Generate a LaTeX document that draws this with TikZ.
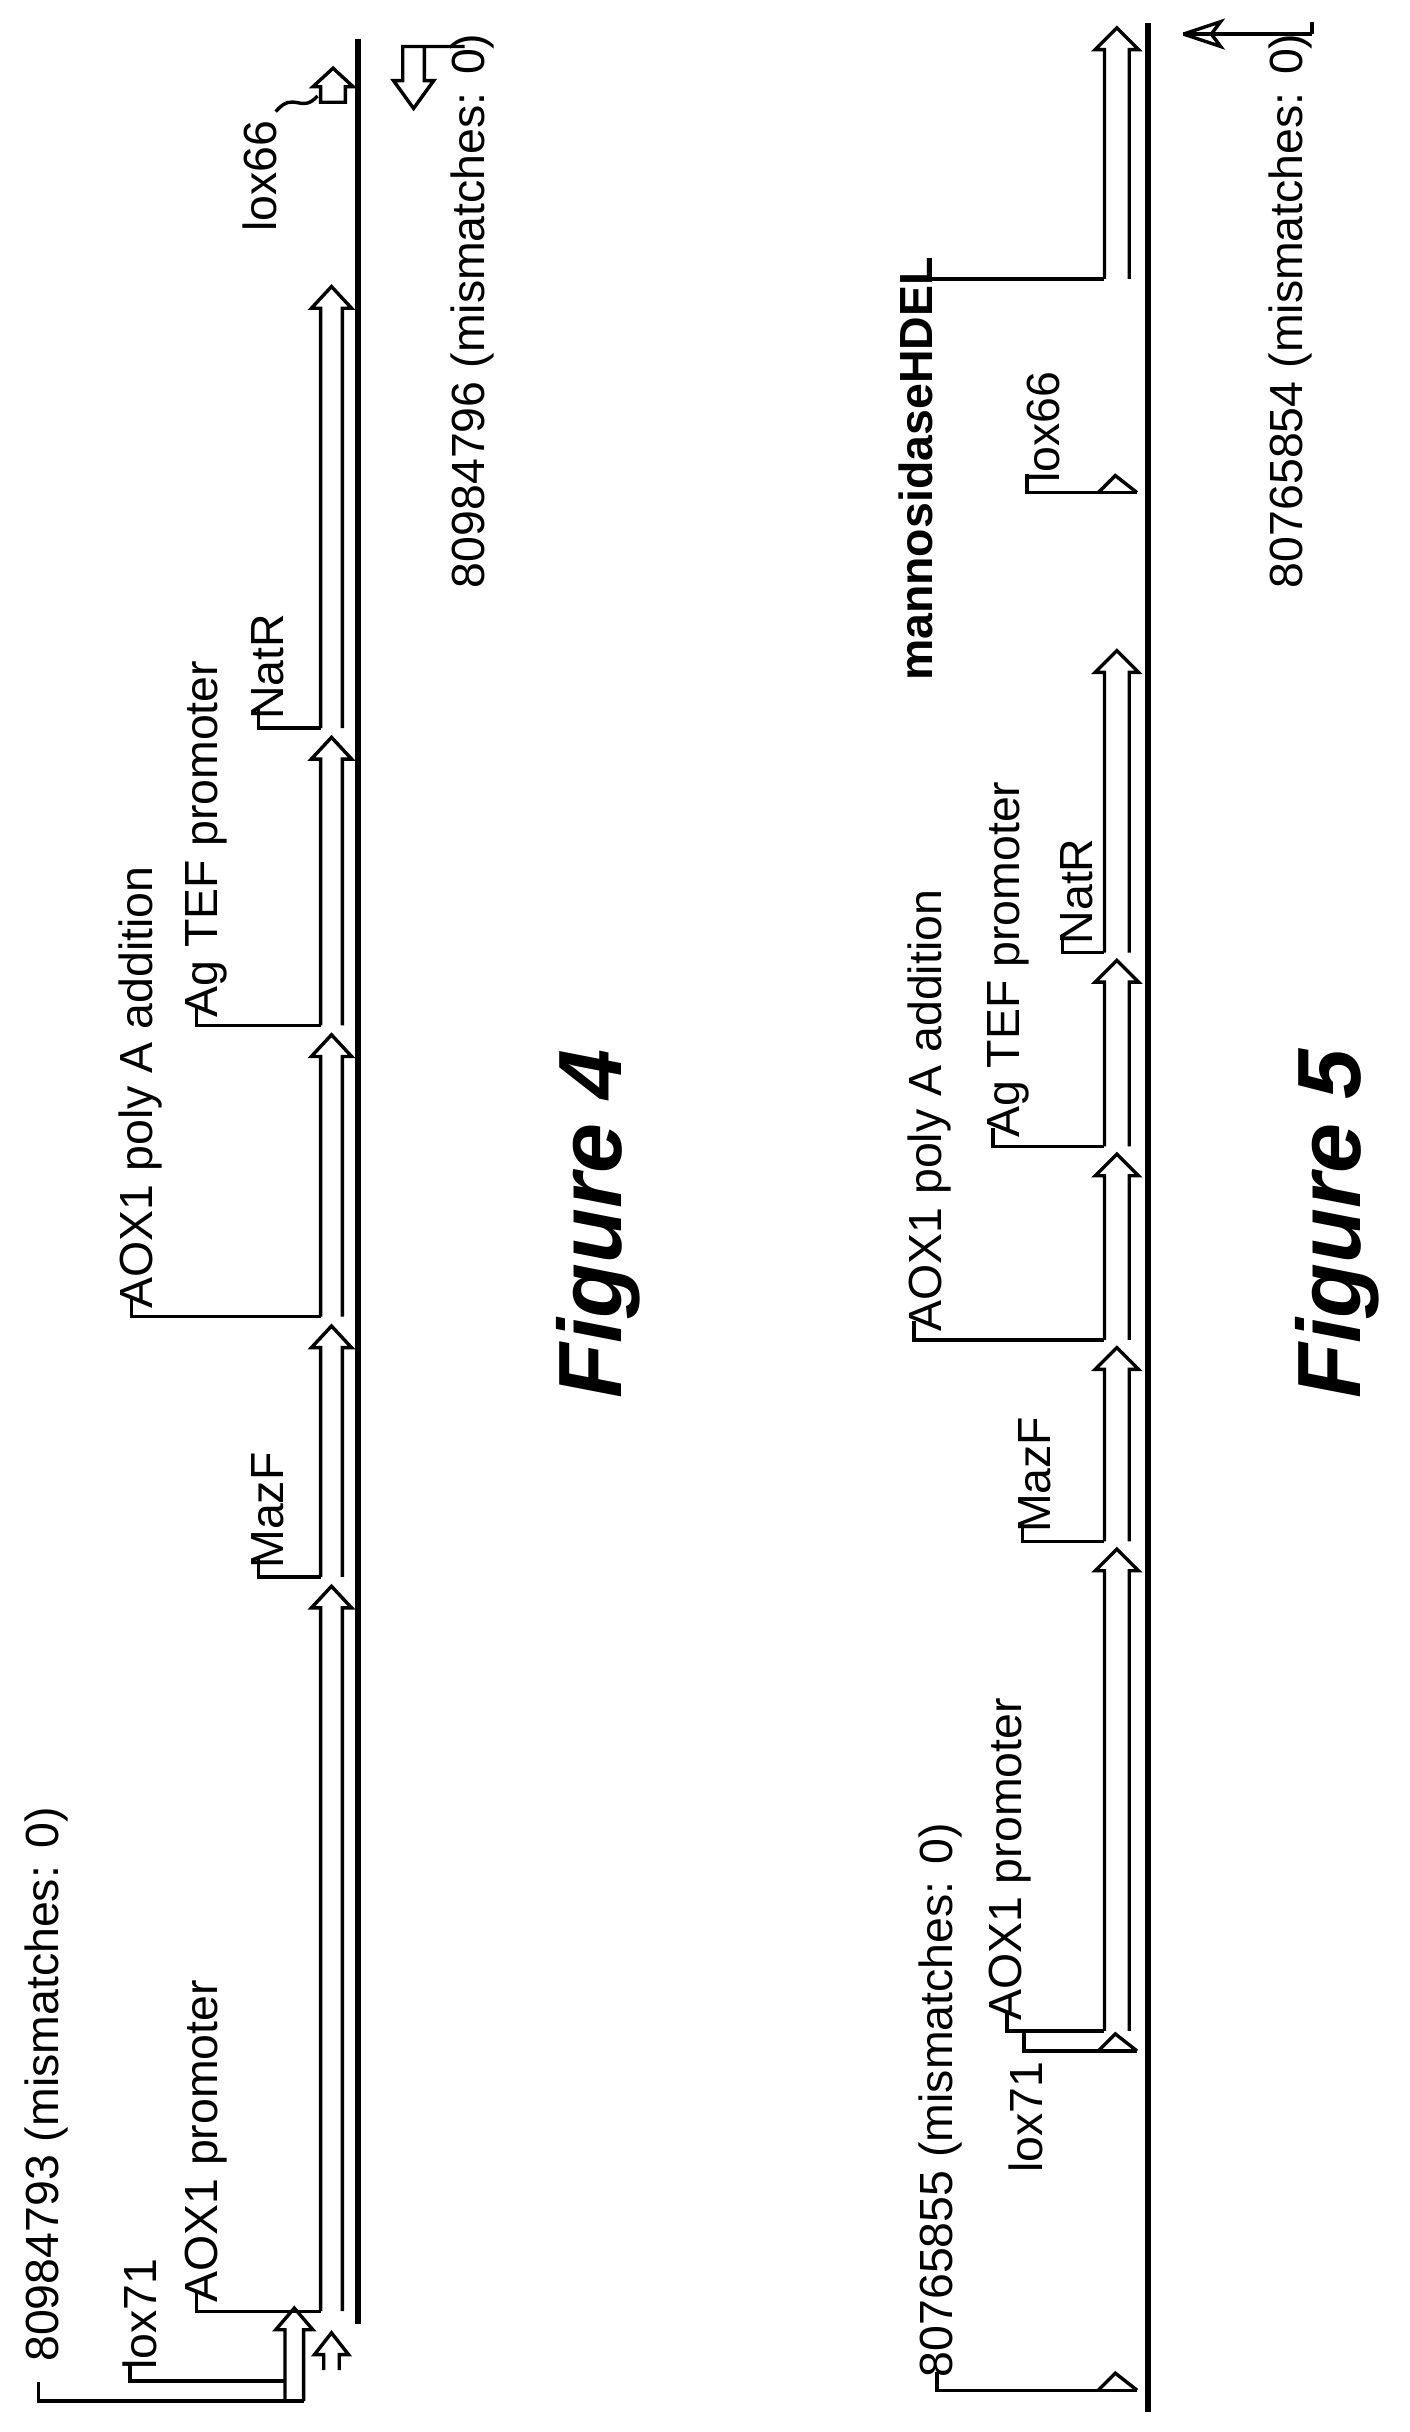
\documentclass[tikz,border=0pt]{standalone}
\usepackage{fontspec}
\setmainfont{Liberation Sans}
\begin{document}
\begin{tikzpicture}[x=0.5pt,y=-0.5pt,
  feat/.style={line width=1.1pt,line join=miter},
  base/.style={line width=2pt},
  lead/.style={line width=1.1pt},
  lbl/.style={rotate=90,anchor=west,inner sep=0pt,font=\fontsize{15}{15}\selectfont},
  figlbl/.style={rotate=90,anchor=center,inner sep=0pt,font=\fontsize{29}{29}\selectfont\bfseries\itshape}]
\useasboundingbox (0,0) rectangle (910,1570);
\newcommand\featarrow[4]{\draw[feat] (#1,#3) -- (#1,{#4+14}) -- ({#1-6},{#4+14}) -- ({(#1+#2)/2},#4) -- ({#2+6},{#4+14}) -- (#2,{#4+14}) -- (#2,#3);}
\newcommand\leader[3]{\draw[lead] (#1,{#3-12}) -- (#1,#3) -- (#2,#3);}
% ===== Figure 4 =====
\draw[base] (231,25) -- (231,1500);
\featarrow{207}{221}{1492}{1024}
\featarrow{207}{221}{1018}{856}
\featarrow{207}{221}{850}{668}
\featarrow{207}{221}{662}{476}
\featarrow{207}{221}{470}{185}
\featarrow{184}{196}{1550}{1490}
\featarrow{209}{219}{1530}{1506}
\node[lbl] (a1) at (30,1525) {80984793 (mismatches: 0)};
\leader{25}{196}{1550}
\node[lbl] (a2) at (90,1530) {lox71};
\leader{84}{184}{1537}
\node[lbl] (a3) at (133,1487) {AOX1 promoter};
\leader{127}{207}{1492}
\node[lbl] (a4) at (173,1013) {MazF};
\leader{167}{207}{1018}
\node[lbl] (a5) at (91,845) {AOX1 poly A addition};
\leader{85}{207}{850}
\node[lbl] (a6) at (133,657) {Ag TEF promoter};
\leader{127}{207}{662}
\node[lbl] (a7) at (173,465) {NatR};
\leader{167}{207}{470}
\node[lbl] (a8) at (168,150) {lox66};
\draw[lead] (178,72) .. controls (190,58) and (194,74) .. (205,62);
\draw[feat] (207,66) -- (207,56) -- (202,56) -- (215,44) -- (228,56) -- (223,56) -- (223,66) -- cycle;
\draw[feat] (300,30) -- (260,30) -- (260,52) -- (254,52) -- (267,70) -- (280,52) -- (274,52) -- (274,30);
\node[lbl] (a9) at (305,380) {80984796 (mismatches: 0)};
\node[figlbl] (f4) at (386,790) {Figure 4};
% ===== Figure 5 =====
\draw[base] (741,15) -- (741,1557);
\featarrow{713}{729}{1311}{1000}
\featarrow{713}{729}{995}{870}
\featarrow{713}{729}{865}{745}
\featarrow{713}{729}{740}{620}
\featarrow{713}{729}{615}{420}
\featarrow{713}{729}{180}{18}
\node[lbl] (b1) at (607,1535) {80765855 (mismatches: 0)};
\leader{605}{734}{1543}
\draw[feat] (709,1543) -- (720,1532) -- (734,1543);
\node[lbl] (b2) at (662,1403) {lox71};
\leader{661}{734}{1324}
\draw[feat] (709,1324) -- (720,1313) -- (734,1324);
\node[lbl] (b3) at (652,1305) {AOX1 promoter};
\leader{650}{713}{1311}
\node[lbl] (b4) at (668,990) {MazF};
\leader{660}{713}{995}
\node[lbl] (b5) at (600,860) {AOX1 poly A addition};
\leader{590}{713}{865}
\node[lbl] (b6) at (651,735) {Ag TEF promoter};
\leader{641}{713}{740}
\node[lbl] (b7) at (695,610) {NatR};
\leader{686}{713}{615}
\node[lbl] (b8) at (673,312) {lox66};
\leader{663}{734}{318}
\draw[feat] (709,318) -- (720,307) -- (734,318);
\node[lbl,font=\fontsize{15}{15}\selectfont\bfseries] (b9) at (591,440) {mannosidaseHDEL};
\draw[lead] (582,180) -- (713,180);
\draw[lead] (764,22) -- (847,22);
\draw[lead] (847,14) -- (847,22);
\draw[feat] (764,22) -- (788,14) -- (782,22);
\draw[feat] (764,22) -- (788,30) -- (782,22);
\node[lbl] (b10) at (833,380) {80765854 (mismatches: 0)};
\node[figlbl] (f5) at (863,790) {Figure 5};
\end{tikzpicture}
\end{document}
